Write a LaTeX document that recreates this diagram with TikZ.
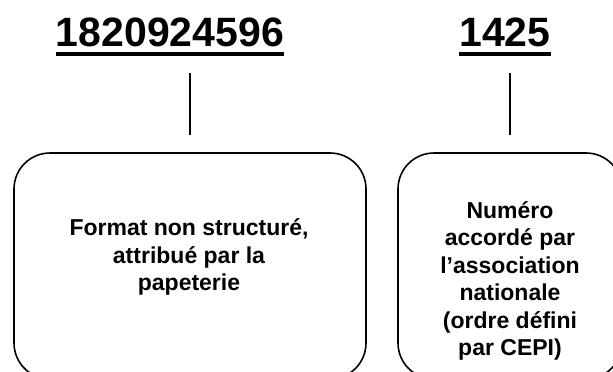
\documentclass[tikz,border=0pt]{standalone}
\usepackage{fontspec}
\setmainfont{Liberation Sans}
\begin{document}
\begin{tikzpicture}[x=1pt,y=-1pt,
  numlabel/.style={font=\fontsize{41}{45}\selectfont\bfseries,inner sep=0pt},
  infobox/.style={draw,line width=1.6pt,rounded corners=36pt},
  boxtext/.style={font=\fontsize{23}{27.5}\selectfont\bfseries,align=center,inner sep=0pt},
  connector/.style={line width=1.4pt}]
\useasboundingbox (0,0) rectangle (613,372);
\clip (0,0) rectangle (613,372);
\node[numlabel,anchor=base] (numA) at (170,46) {1820924596};
\node[numlabel,anchor=base] (numB) at (505,46) {1425};
\draw[line width=4pt] ([yshift=-8pt]numA.base west) -- ([yshift=-8pt]numA.base east);
\draw[line width=4pt] ([yshift=-8pt]numB.base west) -- ([yshift=-8pt]numB.base east);
\node[infobox,minimum width=352,minimum height=226] (boxA) at (190,266) {};
\node[infobox,minimum width=224,minimum height=226] (boxB) at (510,266) {};
\node[boxtext] (txtA) at (189,257) {Format non structuré,\\attribué par la\\papeterie};
\node[boxtext] (txtB) at (510,281) {Numéro\\accordé par\\l’association\\nationale\\(ordre défini\\par CEPI)};
\draw[connector,shorten <=26pt,shorten >=17pt] (numA.south -| boxA.north) -- (boxA.north);
\draw[connector,shorten <=26pt,shorten >=17pt] (numB.south -| boxB.north) -- (boxB.north);
\end{tikzpicture}
\end{document}
